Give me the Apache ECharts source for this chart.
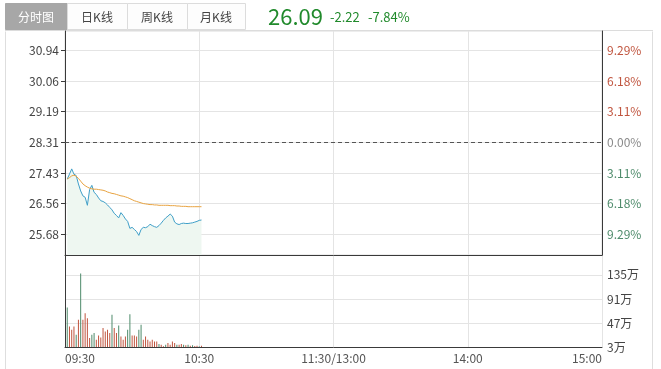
<!DOCTYPE html>
<html><head><meta charset="utf-8">
<script src="https://cdn.jsdelivr.net/npm/echarts@6/dist/echarts.min.js"></script>
<style>html,body{margin:0;padding:0;background:#fff}#c{width:661px;height:369px}</style>
</head><body><div id="c"></div>
<script>
// ---- data ----
const timeLabels = ['09:30', '10:30', '11:30/13:00', '14:00', '15:00'];
const priceTicks = [25.68, 26.56, 27.43, 28.31, 29.19, 30.06, 30.94];
const pctLabels = ['9.29%', '6.18%', '3.11%', '0.00%', '3.11%', '6.18%', '9.29%'];
const volTicks = [3, 47, 91, 135];
const prevClose = 28.31;
const tabNames = ['分时图', '日K线', '周K线', '月K线'];
const lastPrice = '26.09';
const changeAbs = '-2.22';
const changePct = '-7.84%';
// minute bars from 09:31 on
const price = [27.26, 27.40, 27.55, 27.40, 27.36, 27.12, 26.92, 26.78, 26.74, 26.51,
  26.96, 27.08, 26.88, 26.82, 26.72, 26.64, 26.62, 26.58, 26.52, 26.45,
  26.38, 26.28, 26.22, 26.15, 26.30, 26.22, 26.12, 26.05, 25.85, 25.88,
  25.82, 25.76, 25.65, 25.82, 25.88, 25.87, 25.90, 25.97, 25.93, 25.90,
  25.88, 25.93, 26.00, 26.08, 26.15, 26.20, 26.26, 26.20, 26.03, 25.98,
  25.96, 25.99, 26.00, 25.99, 25.99, 26.00, 26.01, 26.03, 26.05, 26.08, 26.09];
const avgPrice = [27.26, 27.30, 27.35, 27.37, 27.34, 27.28, 27.20, 27.12, 27.07, 27.03,
  27.00, 26.98, 26.97, 26.97, 26.96, 26.95, 26.94, 26.92, 26.89, 26.87,
  26.85, 26.84, 26.82, 26.80, 26.78, 26.77, 26.75, 26.73, 26.70, 26.67,
  26.64, 26.62, 26.60, 26.58, 26.56, 26.55, 26.54, 26.53, 26.53, 26.52,
  26.52, 26.51, 26.51, 26.51, 26.51, 26.51, 26.50, 26.50, 26.50, 26.49,
  26.49, 26.48, 26.48, 26.48, 26.47, 26.47, 26.47, 26.47, 26.47, 26.47, 26.47];
// volume in 万
const volume = [75.2, 40.6, 34.6, 40.6, 25.5, 52.8, 137.8, 52.8, 64.9, 55.8,
  19.4, 25.5, 28.5, 16.4, 24.2, 20.6, 37.6, 31.5, 34.6, 28.5,
  61.9, 37.6, 28.5, 42.5, 22.4, 16.4, 22.4, 34.6, 63.1, 24.2,
  24.2, 22.4, 34.6, 43.7, 16.4, 22.4, 16.4, 13.3, 16.4, 13.3,
  13.3, 8.5, 7.2, 4.2, 7.2, 10.3, 7.2, 13.3, 10.3, 7.2,
  7.2, 8.5, 7.2, 6.0, 7.2, 5.4, 6.0, 4.8, 5.4, 4.2, 5.4];
// 1 = up (red), -1 = down (green)
const volDir = [-1, 1, 1, 1, -1, 1, -1, 1, 1, 1,
  1, -1, -1, 1, 1, 1, 1, 1, 1, 1,
  -1, 1, 1, -1, 1, 1, 1, -1, -1, 1,
  1, 1, -1, -1, 1, 1, 1, 1, 1, 1,
  1, -1, 1, 1, -1, 1, 1, 1, 1, -1,
  1, 1, -1, 1, -1, 1, -1, 1, 1, -1, 1];

// ---- styles ----
const FONT = "'Microsoft YaHei','Noto Sans CJK SC',sans-serif";
const RED = '#c0553f', GREEN = '#4e8b6b';
const AXIS = '#3a3a3a', GRID = '#e4e4e4';
const PMIN = 25.09, PMAX = 31.49, VMIN = 3, VMAX = 171.5;

const chart = echarts.init(document.getElementById('c'), null, {renderer: 'canvas'});

const tabX = [5, 67, 127, 187], tabW = [62, 60, 60, 58];
const graphics = [];
tabNames.forEach((t, i) => {
  graphics.push({type: 'rect', shape: {x: tabX[i] + 0.5, y: 3.5, width: tabW[i], height: 26},
    style: {fill: i === 0 ? '#a7a7a7' : '#fdfdfd', stroke: i === 0 ? '#a7a7a7' : '#dcdcdc', lineWidth: 1}, silent: true});
  graphics.push({type: 'text', style: {x: tabX[i] + tabW[i] / 2, y: 17, text: t, textAlign: 'center', textVerticalAlign: 'middle',
    font: '12px ' + FONT, fill: i === 0 ? '#ffffff' : '#444'}, silent: true});
});
graphics.push({type: 'line', shape: {x1: 5.5, y1: 31.5, x2: 5.5, y2: 369}, style: {stroke: '#dedede', lineWidth: 1}, silent: true});
graphics.push({type: 'line', shape: {x1: 652.5, y1: 31.5, x2: 652.5, y2: 369}, style: {stroke: '#dedede', lineWidth: 1}, silent: true});
graphics.push({type: 'line', shape: {x1: 5, y1: 30.5, x2: 653, y2: 30.5}, style: {stroke: '#dcdcdc', lineWidth: 1}, silent: true});
graphics.push({type: 'text', style: {x: 268, y: 17, text: lastPrice, textVerticalAlign: 'middle', font: '22px ' + FONT, fill: '#218a2c'}, silent: true});
graphics.push({type: 'text', style: {x: 330, y: 17, text: changeAbs, textVerticalAlign: 'middle', font: '13px ' + FONT, fill: '#218a2c'}, silent: true});
graphics.push({type: 'text', style: {x: 368, y: 17, text: changePct, textVerticalAlign: 'middle', font: '13px ' + FONT, fill: '#218a2c'}, silent: true});

function nearestIdx(v) {
  let best = 0;
  priceTicks.forEach((t, i) => { if (Math.abs(t - v) < Math.abs(priceTicks[best] - v)) best = i; });
  return best;
}

const option = {
  animation: false,
  backgroundColor: '#fff',
  textStyle: {fontFamily: FONT},
  graphic: graphics,
  grid: [
    {left: 65, top: 31, width: 537, height: 224, show: true, borderColor: '#dcdcdc', borderWidth: 1},
    {left: 65, top: 255, width: 537, height: 92}
  ],
  xAxis: [
    {gridIndex: 0, type: 'value', min: 0, max: 240, interval: 60,
      axisLabel: {show: false}, axisTick: {show: false},
      axisLine: {show: true, lineStyle: {color: AXIS}},
      splitLine: {show: true, lineStyle: {color: GRID}}},
    {gridIndex: 1, type: 'value', min: 0, max: 240, interval: 60,
      axisLabel: {show: true, formatter: v => timeLabels[Math.round(v / 60)], color: '#555', fontSize: 12, margin: 5,
        alignMinLabel: 'left', alignMaxLabel: 'right', fontFamily: FONT},
      axisTick: {show: false},
      axisLine: {show: true, lineStyle: {color: AXIS}},
      splitLine: {show: true, lineStyle: {color: GRID}}}
  ],
  yAxis: [
    {gridIndex: 0, type: 'value', position: 'left', min: PMIN, max: PMAX,
      axisLabel: {customValues: priceTicks, formatter: v => v.toFixed(2), color: '#444', fontSize: 12, margin: 6, fontFamily: FONT},
      axisTick: {show: true, customValues: priceTicks, length: 4, lineStyle: {color: AXIS}},
      axisLine: {show: true, lineStyle: {color: AXIS}},
      splitLine: {show: true, lineStyle: {color: GRID}}},
    {gridIndex: 0, type: 'value', position: 'right', min: PMIN, max: PMAX,
      axisLabel: {customValues: priceTicks, formatter: v => pctLabels[nearestIdx(v)], fontSize: 12, margin: 5, fontFamily: FONT,
        color: v => (Math.abs(v - prevClose) < 0.01 ? '#8a8a8a' : (v > prevClose ? RED : GREEN))},
      axisTick: {show: false, customValues: priceTicks},
      axisLine: {show: true, lineStyle: {color: AXIS}},
      splitLine: {show: false}},
    {gridIndex: 1, type: 'value', position: 'right', min: VMIN, max: VMAX,
      axisLabel: {customValues: volTicks, formatter: v => v + '万', color: '#444', fontSize: 12, margin: 5, fontFamily: FONT},
      axisTick: {show: false, customValues: volTicks},
      axisLine: {show: true, lineStyle: {color: AXIS}},
      splitLine: {show: true, lineStyle: {color: GRID}}},
    {gridIndex: 1, type: 'value', position: 'left', min: VMIN, max: VMAX,
      axisLabel: {show: false}, axisTick: {show: false},
      axisLine: {show: true, lineStyle: {color: AXIS}},
      splitLine: {show: false}}
  ],
  series: [
    {type: 'line', xAxisIndex: 0, yAxisIndex: 0, symbol: 'none', silent: true,
      data: price.map((v, i) => [i + 1, v]),
      lineStyle: {color: '#3f9fc8', width: 1},
      areaStyle: {color: '#eef7f1', origin: 'start', opacity: 1},
      markLine: {silent: true, symbol: 'none', label: {show: false},
        lineStyle: {type: [4, 3], color: '#555', width: 1},
        data: [{yAxis: prevClose}]},
      z: 3},
    {type: 'line', xAxisIndex: 0, yAxisIndex: 0, symbol: 'none', silent: true,
      data: avgPrice.map((v, i) => [i + 1, v]),
      lineStyle: {color: '#e8a340', width: 1}, z: 4},
    {type: 'bar', xAxisIndex: 1, yAxisIndex: 2, barWidth: 1, silent: true,
      data: volume.map((v, i) => ({value: [i + 1, v], itemStyle: {color: volDir[i] > 0 ? RED : GREEN}}))}
  ]
};
chart.setOption(option);
</script>
</body></html>
